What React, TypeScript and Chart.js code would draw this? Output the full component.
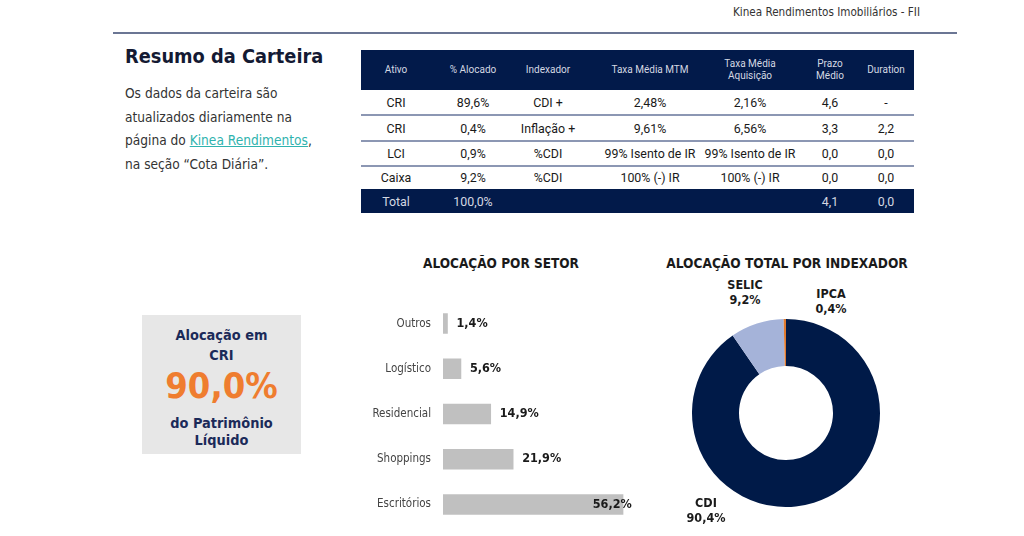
import React, { useEffect, useRef } from "react";
import { Chart, registerables } from "chart.js";

Chart.register(...registerables);

// ---- data ----
const sectorLabels = ["Outros", "Logístico", "Residencial", "Shoppings", "Escritórios"];
const sectorValues = [1.4, 5.6, 14.9, 21.9, 56.2];

const indexLabels = ["CDI", "SELIC", "IPCA"];
const indexValues = [90.4, 9.2, 0.4];

const tableHeaders = ["Ativo", "% Alocado", "Indexador", "Taxa Média MTM", "Taxa Média\nAquisição", "Prazo\nMédio", "Duration"];
const tableRows = [
  ["CRI", "89,6%", "CDI +", "2,48%", "2,16%", "4,6", "-"],
  ["CRI", "0,4%", "Inflação +", "9,61%", "6,56%", "3,3", "2,2"],
  ["LCI", "0,9%", "%CDI", "99% Isento de IR", "99% Isento de IR", "0,0", "0,0"],
  ["Caixa", "9,2%", "%CDI", "100% (-) IR", "100% (-) IR", "0,0", "0,0"],
];
const tableTotal = ["Total", "100,0%", "", "", "", "4,1", "0,0"];

const colCenters = [396, 473, 548, 650, 750, 830, 886];
const rowBounds = [90, 115, 141, 166, 189];

const NAVY = "#021a4a";
const TAHOMA = "'DejaVu Sans Condensed', 'DejaVu Sans', sans-serif";
const TABLEFONT = "Roboto, 'Open Sans', sans-serif";

function BarChart() {
  const ref = useRef<HTMLCanvasElement | null>(null);
  useEffect(() => {
    if (!ref.current) return;
    const labelPlugin = {
      id: "barValueLabels",
      afterDatasetsDraw(chart: any) {
        const { ctx, chartArea } = chart;
        const meta = chart.getDatasetMeta(0);
        ctx.save();
        ctx.font = `bold 12.5px ${TAHOMA}`;
        ctx.fillStyle = "#1a1a1a";
        ctx.textBaseline = "middle";
        meta.data.forEach((bar: any, i: number) => {
          const txt = sectorValues[i].toFixed(1).replace(".", ",") + "%";
          const w = ctx.measureText(txt).width;
          const x = Math.min(bar.x + 9, chartArea.right + 3 - w);
          ctx.fillText(txt, x, bar.y);
        });
        ctx.restore();
      },
    };
    const chart = new Chart(ref.current, {
      type: "bar",
      data: {
        labels: sectorLabels,
        datasets: [
          {
            data: sectorValues,
            backgroundColor: "#c0c0c0",
            borderWidth: 0,
            barThickness: 20,
          },
        ],
      },
      options: {
        indexAxis: "y",
        animation: false,
        responsive: false,
        maintainAspectRatio: false,
        layout: { padding: { left: 0, right: 3.2, top: 0, bottom: 0 } },
        plugins: { legend: { display: false }, tooltip: { enabled: false } },
        scales: {
          x: { display: false, min: 0, max: 58 },
          y: {
            grid: { display: false, drawTicks: false },
            border: { display: false },
            ticks: {
              color: "#444",
              font: { family: TAHOMA, size: 11.5 },
              padding: 12,
            },
            afterFit(scale: any) {
              scale.width = 83;
            },
          },
        },
      },
      plugins: [labelPlugin],
    });
    return () => chart.destroy();
  }, []);
  return (
    <canvas
      ref={ref}
      width={272}
      height={264}
      style={{ position: "absolute", left: 360, top: 282, width: 272, height: 264 }}
    />
  );
}

function DoughnutChart() {
  const ref = useRef<HTMLCanvasElement | null>(null);
  useEffect(() => {
    if (!ref.current) return;
    const chart = new Chart(ref.current, {
      type: "doughnut",
      data: {
        labels: indexLabels,
        datasets: [
          {
            data: indexValues,
            backgroundColor: ["#001a48", "#a5b3d9", "#e07a2e"],
            borderWidth: 0,
          },
        ],
      },
      options: {
        animation: false,
        responsive: false,
        maintainAspectRatio: false,
        cutout: "50%",
        layout: { padding: 0 },
        plugins: { legend: { display: false }, tooltip: { enabled: false } },
      },
    });
    return () => chart.destroy();
  }, []);
  return (
    <canvas
      ref={ref}
      width={188}
      height={188}
      style={{ position: "absolute", left: 692, top: 319, width: 188, height: 188 }}
    />
  );
}

const abs = (s: React.CSSProperties): React.CSSProperties => ({ position: "absolute", ...s });

export default function App() {
  return (
    <div style={abs({ left: 0, top: 0, width: 1024, height: 536, background: "#fff", overflow: "hidden" })}>
      {/* header */}
      <div style={abs({ left: 733, top: 5, fontFamily: TAHOMA, fontSize: 11.6, color: "#333", whiteSpace: "nowrap" })}>
        Kinea Rendimentos Imobiliários - FII
      </div>
      <div style={abs({ left: 113, top: 32, width: 844, height: 2, background: "#6b7694" })} />

      {/* intro */}
      <div style={abs({ left: 125, top: 45, fontFamily: TAHOMA, fontSize: 19.8, fontWeight: "bold", color: "#141a33", whiteSpace: "nowrap" })}>
        Resumo da Carteira
      </div>
      <div style={abs({ left: 125, top: 82, fontFamily: TAHOMA, fontSize: 13.6, lineHeight: "23.7px", color: "#333", whiteSpace: "nowrap" })}>
        Os dados da carteira são<br />
        atualizados diariamente na<br />
        página do <span style={{ color: "#2fb3ae", textDecoration: "underline" }}>Kinea Rendimentos</span>,<br />
        na seção “Cota Diária”.
      </div>

      {/* table */}
      <div style={abs({ left: 361, top: 50, width: 553, height: 40, background: NAVY })} />
      <div style={abs({ left: 361, top: 189, width: 553, height: 24, background: NAVY })} />
      {[115, 141, 166].map((y) => (
        <div key={y} style={abs({ left: 361, top: y - 1, width: 553, height: 1.5, background: "#8c97b3" })} />
      ))}
      {tableHeaders.map((h, i) => (
        <div
          key={"h" + i}
          style={abs({
            left: colCenters[i] - 60,
            width: 120,
            top: 50,
            height: 40,
            display: "flex",
            alignItems: "center",
            justifyContent: "center",
            textAlign: "center",
            whiteSpace: "pre",
            fontFamily: TABLEFONT,
            fontSize: 10,
            lineHeight: "12px",
            color: "#d4d8e2",
          })}
        >
          {h}
        </div>
      ))}
      {tableRows.map((row, r) =>
        row.map((c, i) => (
          <div
            key={r + "-" + i}
            style={abs({
              left: colCenters[i] - 60,
              width: 120,
              top: rowBounds[r],
              height: rowBounds[r + 1] - rowBounds[r],
              display: "flex",
              alignItems: "center",
              justifyContent: "center",
              whiteSpace: "nowrap",
              fontFamily: TABLEFONT,
              fontSize: 12.4,
              color: "#1a1a1a",
            })}
          >
            {c}
          </div>
        ))
      )}
      {tableTotal.map((c, i) => (
        <div
          key={"t" + i}
          style={abs({
            left: colCenters[i] - 60,
            width: 120,
            top: 189,
            height: 24,
            display: "flex",
            alignItems: "center",
            justifyContent: "center",
            whiteSpace: "nowrap",
            fontFamily: TABLEFONT,
            fontSize: 12.4,
            color: "#d4d8e2",
          })}
        >
          {c}
        </div>
      ))}

      {/* allocation box */}
      <div
        style={abs({
          left: 142,
          top: 315,
          width: 159,
          height: 139,
          background: "#e7e7e7",
          fontFamily: TAHOMA,
          fontWeight: "bold",
          color: "#1b2a59",
          textAlign: "center",
        })}
      >
        <div style={abs({ left: 0, width: 159, top: 10, fontSize: 14.4, lineHeight: "20px" })}>
          Alocação em<br />CRI
        </div>
        <div style={abs({ left: 0, width: 159, top: 50, fontSize: 36, lineHeight: "42px", color: "#ef7d2f" })}>
          90,0%
        </div>
        <div style={abs({ left: 0, width: 159, top: 100, fontSize: 14.4, lineHeight: "17px" })}>
          do Patrimônio<br />Líquido
        </div>
      </div>

      {/* bar chart */}
      <div style={abs({ left: 351, width: 300, top: 255, textAlign: "center", fontFamily: TAHOMA, fontWeight: "bold", fontSize: 13.5, color: "#1a1a1a", whiteSpace: "nowrap" })}>
        ALOCAÇÃO POR SETOR
      </div>
      <BarChart />

      {/* doughnut */}
      <div style={abs({ left: 637, width: 300, top: 255, textAlign: "center", fontFamily: TAHOMA, fontWeight: "bold", fontSize: 13.6, color: "#1a1a1a", whiteSpace: "nowrap" })}>
        ALOCAÇÃO TOTAL POR INDEXADOR
      </div>
      <DoughnutChart />
      <div style={abs({ left: 705, width: 80, top: 277, textAlign: "center", fontFamily: TAHOMA, fontWeight: "bold", fontSize: 12.5, lineHeight: "15px", color: "#1a1a1a" })}>
        SELIC<br />9,2%
      </div>
      <div style={abs({ left: 791, width: 80, top: 286, textAlign: "center", fontFamily: TAHOMA, fontWeight: "bold", fontSize: 12.5, lineHeight: "15px", color: "#1a1a1a" })}>
        IPCA<br />0,4%
      </div>
      <div style={abs({ left: 666, width: 80, top: 495, textAlign: "center", fontFamily: TAHOMA, fontWeight: "bold", fontSize: 12.5, lineHeight: "15px", color: "#1a1a1a" })}>
        CDI<br />90,4%
      </div>
    </div>
  );
}
